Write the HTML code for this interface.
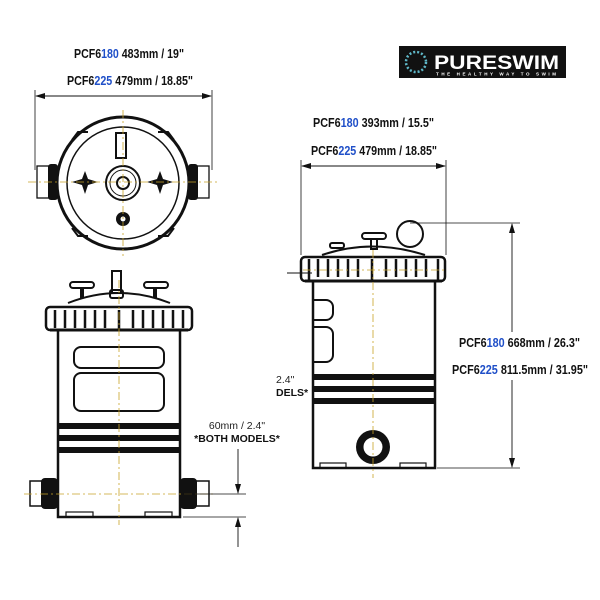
<!DOCTYPE html>
<html><head><meta charset="utf-8"><style>
html,body{margin:0;padding:0;background:#fff;width:600px;height:600px;overflow:hidden}
svg{display:block}
.t{font-family:"Liberation Sans",sans-serif;font-size:13px;font-weight:bold;fill:#111}
.b{fill:#1f4fc8}
.c{stroke:#c9a227;stroke-width:0.8;stroke-dasharray:8 3 2 3;fill:none}
.k{stroke:#111;fill:none}
</style></head><body>
<svg width="600" height="600" viewBox="0 0 600 600" xmlns="http://www.w3.org/2000/svg">
<defs>
<marker id="a" markerWidth="10" markerHeight="8" refX="9" refY="4" orient="auto-start-reverse" markerUnits="userSpaceOnUse"><path d="M0,1 L10,4 L0,7 z" fill="#111"/></marker>
</defs>

<!-- logo -->
<rect x="399" y="46" width="167" height="32" fill="#111"/>
<circle cx="416" cy="62" r="10" fill="none" stroke="#5fb8c8" stroke-width="2.5" stroke-dasharray="2 2"/>
<text x="434" y="69" font-family="Liberation Sans,sans-serif" font-weight="bold" font-size="19" fill="#fff" textLength="125" lengthAdjust="spacingAndGlyphs">PURESWIM</text>
<text x="436" y="75.5" font-family="Liberation Sans,sans-serif" font-weight="bold" font-size="4.5" fill="#fff" textLength="120">THE HEALTHY WAY TO SWIM</text>

<!-- top-left texts -->
<text class="t" x="74" y="58" textLength="110" lengthAdjust="spacingAndGlyphs">PCF6<tspan class="b">180</tspan> 483mm / 19"</text>
<text class="t" x="67" y="85" textLength="126" lengthAdjust="spacingAndGlyphs">PCF6<tspan class="b">225</tspan> 479mm / 18.85"</text>
<line x1="35" y1="90" x2="35" y2="170" stroke="#111" stroke-width="0.8"/>
<line x1="212" y1="90" x2="212" y2="170" stroke="#111" stroke-width="0.8"/>
<line x1="36" y1="96" x2="211" y2="96" stroke="#111" stroke-width="0.9" marker-start="url(#a)" marker-end="url(#a)"/>

<!-- top view -->
<g>
<path d="M72,140 l6,-8 h10 M174,140 l-6,-8 h-10 M72,228 l6,8 h10 M174,228 l-6,8 h-10" class="k" stroke-width="2"/>
<circle cx="123" cy="183" r="66" class="k" stroke-width="3"/>
<circle cx="123" cy="183" r="56" class="k" stroke-width="1.5"/>
<rect x="37" y="166" width="17" height="32" class="k" stroke-width="1.3" fill="#fff"/>
<rect x="48" y="164" width="10" height="36" rx="3" fill="#111"/>
<rect x="192" y="166" width="17" height="32" class="k" stroke-width="1.3" fill="#fff"/>
<rect x="188" y="164" width="10" height="36" rx="3" fill="#111"/>
<rect x="116" y="133" width="10" height="25" class="k" stroke-width="2"/>
<circle cx="123" cy="183" r="17" class="k" stroke-width="2"/>
<circle cx="123" cy="183" r="13" class="k" stroke-width="1"/>
<circle cx="123" cy="183" r="6" class="k" stroke-width="2"/>
<path d="M85,171 l3,8 l10,3 l-10,3 l-3,9 l-3,-9 l-10,-3 l10,-3z" fill="#111"/>
<path d="M160,171 l3,8 l10,3 l-10,3 l-3,9 l-3,-9 l-10,-3 l10,-3z" fill="#111"/>
<circle cx="123" cy="219" r="7" fill="#111"/><circle cx="123" cy="219" r="2.5" fill="#fff"/>
<line x1="28" y1="182" x2="220" y2="182" class="c"/>
<line x1="123" y1="110" x2="123" y2="256" class="c"/>
</g>

<!-- front view left -->
<g>
<rect x="58" y="330" width="122" height="187" class="k" stroke-width="2.5" fill="#fff"/>
<path d="M68,303 Q119,283 170,303" class="k" stroke-width="2"/>
<rect x="112" y="271" width="9" height="22" class="k" stroke-width="2" fill="#fff"/>
<rect x="110" y="290" width="13" height="8" rx="2" class="k" stroke-width="2" fill="#fff"/>
<rect x="70" y="282" width="24" height="6" rx="3" class="k" stroke-width="2" fill="#fff"/>
<rect x="80" y="288" width="4" height="10" fill="#111"/>
<rect x="144" y="282" width="24" height="6" rx="3" class="k" stroke-width="2" fill="#fff"/>
<rect x="153" y="288" width="4" height="10" fill="#111"/>
<rect x="46" y="307" width="146" height="23" rx="4" class="k" stroke-width="2.5" fill="#fff"/>
<g stroke="#111" stroke-width="2.5">
<path d="M55,310v18M65,310v18M75,310v18M85,310v18M95,310v18M105,310v18M119,310v20M133,310v18M143,310v18M153,310v18M163,310v18M173,310v18M183,310v18"/>
</g>
<line x1="50" y1="330" x2="188" y2="330" stroke="#111" stroke-width="3"/>
<rect x="74" y="347" width="90" height="21" rx="7" class="k" stroke-width="2"/>
<rect x="74" y="373" width="90" height="38" rx="7" class="k" stroke-width="2"/>
<rect x="58" y="423" width="122" height="6" fill="#111"/>
<rect x="58" y="435" width="122" height="6" fill="#111"/>
<rect x="58" y="447" width="122" height="6" fill="#111"/>
<rect x="30" y="481" width="15" height="25" class="k" stroke-width="1.5" fill="#fff"/>
<rect x="41" y="478" width="17" height="31" rx="4" fill="#111"/>
<rect x="194" y="481" width="15" height="25" class="k" stroke-width="1.5" fill="#fff"/>
<rect x="180" y="478" width="17" height="31" rx="4" fill="#111"/>
<rect x="66" y="512" width="27" height="5" class="k" stroke-width="1.2"/>
<rect x="145" y="512" width="27" height="5" class="k" stroke-width="1.2"/>
<line x1="119" y1="280" x2="119" y2="525" class="c"/>
<line x1="24" y1="494" x2="215" y2="494" class="c"/>
</g>
<!-- 60mm dim -->
<text x="237" y="429" text-anchor="middle" font-family="Liberation Sans,sans-serif" font-size="10.5" fill="#222">60mm / 2.4"</text>
<text x="237" y="442" text-anchor="middle" font-family="Liberation Sans,sans-serif" font-weight="bold" font-size="10.5" fill="#111">*BOTH MODELS*</text>
<line x1="183" y1="494" x2="246" y2="494" stroke="#111" stroke-width="0.8"/>
<line x1="183" y1="517" x2="246" y2="517" stroke="#111" stroke-width="0.8"/>
<line x1="238" y1="449" x2="238" y2="493" stroke="#111" stroke-width="0.9" marker-end="url(#a)"/>
<line x1="238" y1="547" x2="238" y2="518" stroke="#111" stroke-width="0.9" marker-end="url(#a)"/>

<!-- right view -->
<text class="t" x="313" y="127" textLength="121" lengthAdjust="spacingAndGlyphs">PCF6<tspan class="b">180</tspan> 393mm / 15.5"</text>
<text class="t" x="311" y="155" textLength="126" lengthAdjust="spacingAndGlyphs">PCF6<tspan class="b">225</tspan> 479mm / 18.85"</text>
<line x1="301" y1="160" x2="301" y2="255" stroke="#111" stroke-width="0.8"/>
<line x1="446" y1="160" x2="446" y2="255" stroke="#111" stroke-width="0.8"/>
<line x1="302" y1="166" x2="445" y2="166" stroke="#111" stroke-width="0.9" marker-start="url(#a)" marker-end="url(#a)"/>
<g>
<rect x="313" y="281" width="122" height="187" class="k" stroke-width="2.5" fill="#fff"/>
<path d="M322,255 Q372,238 425,255" class="k" stroke-width="2"/>
<circle cx="410" cy="234" r="13" class="k" stroke-width="2" fill="#fff"/>
<rect x="362" y="233" width="24" height="6" rx="3" class="k" stroke-width="2" fill="#fff"/>
<rect x="371" y="239" width="6" height="10" class="k" stroke-width="2"/>
<rect x="330" y="243" width="14" height="5" rx="2" class="k" stroke-width="2"/>
<rect x="301" y="257" width="144" height="24" rx="4" class="k" stroke-width="2.5" fill="#fff"/>
<g stroke="#111" stroke-width="2.5">
<path d="M309,259v21M318,259v18M328,259v18M338,259v18M348,259v18M358,259v18M372,259v23M386,259v18M396,259v18M406,259v18M416,259v18M426,259v18M438,259v21"/>
</g>
<line x1="287" y1="273" x2="312" y2="273" stroke="#111" stroke-width="1"/>
<line x1="305" y1="281" x2="442" y2="281" stroke="#111" stroke-width="3"/>
<path d="M313,300 h13 a7,7 0 0 1 7,7 v6 a7,7 0 0 1 -7,7 h-13" class="k" stroke-width="2"/>
<path d="M313,327 h13 a7,7 0 0 1 7,7 v21 a7,7 0 0 1 -7,7 h-13" class="k" stroke-width="2"/>
<rect x="313" y="374" width="122" height="6" fill="#111"/>
<rect x="313" y="386" width="122" height="6" fill="#111"/>
<rect x="313" y="398" width="122" height="6" fill="#111"/>
<circle cx="373" cy="447" r="17" fill="#111"/>
<circle cx="373" cy="447" r="10" fill="#fff" stroke="#111" stroke-width="1"/>
<rect x="320" y="463" width="26" height="5" class="k" stroke-width="1.2"/>
<rect x="400" y="463" width="26" height="5" class="k" stroke-width="1.2"/>
<line x1="373" y1="250" x2="373" y2="478" class="c"/>
<line x1="303" y1="270" x2="445" y2="270" class="c"/>
</g>
<text x="276" y="383" font-family="Liberation Sans,sans-serif" font-size="10.5" fill="#222">2.4"</text>
<text x="276" y="396" font-family="Liberation Sans,sans-serif" font-weight="bold" font-size="10.5" fill="#111">DELS*</text>
<!-- height dim -->
<line x1="410" y1="223" x2="520" y2="223" stroke="#111" stroke-width="0.8"/>
<line x1="437" y1="468" x2="520" y2="468" stroke="#111" stroke-width="0.8"/>
<line x1="512" y1="224" x2="512" y2="332" stroke="#111" stroke-width="0.9" marker-start="url(#a)"/>
<line x1="512" y1="380" x2="512" y2="467" stroke="#111" stroke-width="0.9" marker-end="url(#a)"/>
<text class="t" x="459" y="347" textLength="121" lengthAdjust="spacingAndGlyphs">PCF6<tspan class="b">180</tspan> 668mm / 26.3"</text>
<text class="t" x="452" y="374" textLength="136" lengthAdjust="spacingAndGlyphs">PCF6<tspan class="b">225</tspan> 811.5mm / 31.95"</text>
</svg>
</body></html>
